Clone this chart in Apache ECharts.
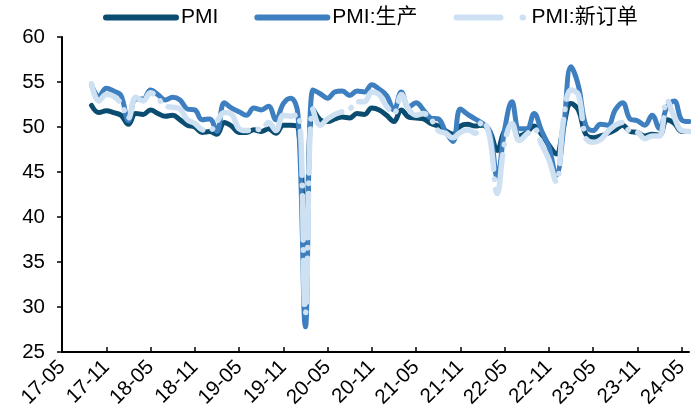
<!DOCTYPE html>
<html>
<head>
<meta charset="utf-8">
<script src="https://cdn.jsdelivr.net/npm/echarts@6/dist/echarts.min.js"></script>
<style>
html,body{margin:0;padding:0;background:#fff;}
#c{width:691px;height:417px;}
</style>
</head>
<body>
<div id="c"></div>
<script>
var categories = [
 '17-05','17-06','17-07','17-08','17-09','17-10','17-11','17-12',
 '18-01','18-02','18-03','18-04','18-05','18-06','18-07','18-08','18-09','18-10','18-11','18-12',
 '19-01','19-02','19-03','19-04','19-05','19-06','19-07','19-08','19-09','19-10','19-11','19-12',
 '20-01','20-02','20-03','20-04','20-05','20-06','20-07','20-08','20-09','20-10','20-11','20-12',
 '21-01','21-02','21-03','21-04','21-05','21-06','21-07','21-08','21-09','21-10','21-11','21-12',
 '22-01','22-02','22-03','22-04','22-05','22-06','22-07','22-08','22-09','22-10','22-11','22-12',
 '23-01','23-02','23-03','23-04','23-05','23-06','23-07','23-08','23-09','23-10','23-11','23-12',
 '24-01','24-02','24-03','24-04','24-05','24-06'
];
var pmi = [
 null,null,null,null,52.4,51.6,51.8,51.6,
 51.3,50.3,51.5,51.4,51.9,51.5,51.2,51.3,50.8,50.2,50.0,49.4,
 49.5,49.2,50.5,50.1,49.4,49.4,49.7,49.5,49.8,49.3,50.2,50.2,
 50.0,35.7,52.0,50.8,50.6,50.9,51.1,51.0,51.5,51.4,52.1,51.9,
 51.3,50.6,51.9,51.1,51.0,50.9,50.4,50.1,49.6,49.2,50.1,50.3,
 50.1,50.2,49.5,47.4,49.6,50.2,49.0,49.4,50.1,49.2,48.0,47.0,
 50.1,52.6,51.9,49.2,48.8,49.0,49.3,49.7,50.2,49.5,49.4,49.0,
 49.2,49.1,50.8,50.4,49.5,49.5
];
var production = [
 null,null,null,null,54.7,53.4,54.3,54.0,
 53.5,50.7,53.1,53.1,54.1,53.6,53.0,53.3,53.0,52.0,51.9,50.8,
 50.9,49.5,52.7,52.1,51.7,51.3,52.1,51.9,52.3,50.8,52.6,53.2,
 51.3,27.8,54.1,53.7,53.2,53.9,54.0,53.5,54.0,53.9,54.7,54.2,
 53.5,51.9,53.9,52.2,52.7,51.9,51.0,50.9,49.5,48.4,52.0,51.4,
 50.9,50.4,49.5,44.4,49.7,52.8,49.8,49.8,51.5,49.6,47.8,44.6,
 49.8,56.7,54.6,50.2,49.6,50.3,50.2,51.9,52.7,50.9,50.7,50.2,
 51.3,49.8,52.2,52.9,50.8,50.6
];
var newOrders = [
 null,null,null,null,54.8,52.9,53.6,53.4,
 52.6,51.0,53.3,52.9,53.8,53.2,52.3,52.2,52.0,50.8,50.4,49.7,
 49.6,50.6,51.6,51.4,49.8,49.6,49.8,49.7,50.5,49.6,51.3,51.2,
 51.4,29.3,52.0,50.2,50.9,51.4,51.7,52.0,52.8,52.8,53.9,53.6,
 52.3,51.5,53.6,52.0,51.3,51.5,50.9,49.6,49.3,48.8,49.4,49.7,
 49.3,50.7,48.8,42.6,48.2,50.4,48.5,49.2,49.8,48.1,46.4,43.9,
 50.9,54.1,53.6,48.8,48.3,48.6,49.5,50.2,50.5,49.5,49.4,48.7,
 49.0,49.0,53.0,51.1,49.6,49.5
];
var seriesNames = ['PMI', 'PMI:生产', 'PMI:新订单'];
var yTicks = {min: 25, max: 60, step: 5};

var font = "'Liberation Sans', Arial, 'Noto Sans CJK SC', sans-serif";
var hidden = {opacity: 0};
var chart = echarts.init(document.getElementById('c'), null, {renderer: 'canvas'});
chart.setOption({
  animation: false,
  backgroundColor: '#ffffff',
  grid: {left: 62, right: -5, top: 37, bottom: 65, containLabel: false},
  legend: {
    top: 2, left: 98,
    itemWidth: 70, itemHeight: 10, itemGap: 36, itemTextGap: 7,
    textStyle: {fontSize: 21, color: '#000', fontFamily: font},
    itemStyle: hidden,
    lineStyle: {width: 6, cap: 'round'},
    data: [
      {name: seriesNames[0], itemStyle: hidden},
      {name: seriesNames[1], itemStyle: hidden},
      {name: seriesNames[2], itemStyle: hidden, lineStyle: {width: 6, type: [44, 22, 0.5, 22], cap: 'round'}}
    ]
  },
  xAxis: {
    type: 'category',
    data: categories,
    boundaryGap: false,
    axisLine: {show: true, lineStyle: {color: '#000', width: 2}},
    axisTick: {show: true, inside: true, interval: 5, length: 5, lineStyle: {color: '#000', width: 1.5}},
    axisLabel: {interval: 5, rotate: 45, fontSize: 20.5, color: '#000', margin: 12, fontFamily: font},
    splitLine: {show: false}
  },
  yAxis: {
    type: 'value',
    min: yTicks.min, max: yTicks.max, interval: yTicks.step,
    axisLine: {show: true, lineStyle: {color: '#000', width: 2}},
    axisTick: {show: true, length: 5, lineStyle: {color: '#000', width: 1.5}},
    axisLabel: {fontSize: 20.5, color: '#000', margin: 17, fontFamily: font},
    splitLine: {show: false}
  },
  series: [
    {name: seriesNames[0], type: 'line', data: pmi, symbol: 'none', smooth: 0.4,
     lineStyle: {color: '#0b4d70', width: 5, cap: 'round', join: 'round'}, itemStyle: {color: '#0b4d70'}},
    {name: seriesNames[1], type: 'line', data: production, symbol: 'none', smooth: 0.4,
     lineStyle: {color: '#3e7fc0', width: 5, cap: 'round', join: 'round'}, itemStyle: {color: '#3e7fc0'}},
    {name: seriesNames[2], type: 'line', data: newOrders, symbol: 'none', smooth: 0.4,
     lineStyle: {color: '#cde1f3', width: 5.5, type: [44, 10, 0.5, 10], cap: 'round', join: 'round'}, itemStyle: {color: '#cde1f3'}}
  ]
});
</script>
</body>
</html>
